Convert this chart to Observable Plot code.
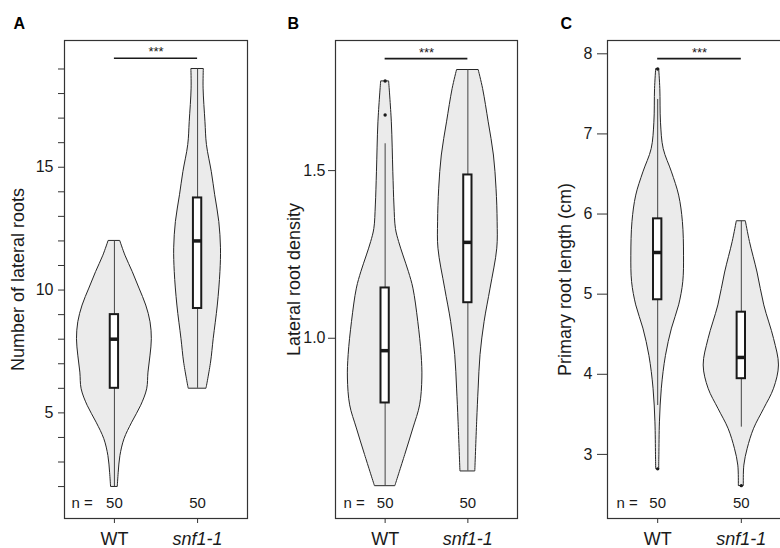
<!DOCTYPE html>
<html>
<head>
<meta charset="utf-8">
<script src="https://cdn.jsdelivr.net/npm/d3@7"></script>
<script src="https://cdn.jsdelivr.net/npm/@observablehq/plot@0.6"></script>
<style>
  html, body { margin: 0; padding: 0; background: #fff; overflow: hidden; }
  #figure { position: relative; width: 780px; height: 548px; overflow: hidden; }
  #figure svg { position: absolute; top: 0; }
</style>
</head>
<body>
<div id="figure"></div>
<script>
// Genotypes on the x axis
const groups = ["WT", "snf1-1"];

// Violin outlines: [value, relative density] from bottom to top, one list per genotype
const lateralWT = [[2.0,0.09],[2.56,0.115],[3.24,0.16],[3.93,0.27],[4.6,0.475],[5.29,0.715],[5.96,0.875],[6.64,0.91],[7.33,0.965],[8.0,1.0],[8.69,0.965],[9.37,0.85],[10.06,0.67],[10.73,0.49],[11.4,0.295],[12.0,0.155]];
const lateralSnf = [[6.0,0.24],[7.05,0.36],[8.0,0.43],[9.37,0.54],[10.73,0.61],[11.7,0.625],[12.77,0.58],[13.86,0.47],[14.8,0.38],[15.9,0.25],[16.85,0.21],[18.2,0.16],[19.0,0.166]];
const densityWT = [[0.56,0.277],[0.652,0.54],[0.731,0.76],[0.80,0.94],[0.88,1.0],[0.95,0.98],[1.049,0.89],[1.148,0.76],[1.197,0.64],[1.247,0.49],[1.287,0.375],[1.326,0.29],[1.396,0.25],[1.495,0.22],[1.644,0.18],[1.766,0.107]];
const densitySnf = [[0.604,0.20],[0.751,0.25],[0.85,0.29],[0.95,0.34],[1.049,0.45],[1.148,0.61],[1.267,0.79],[1.346,0.80],[1.446,0.77],[1.545,0.70],[1.644,0.56],[1.743,0.41],[1.80,0.29]];
const primaryWT = [[2.82,0.04],[2.99,0.045],[3.40,0.06],[3.82,0.11],[4.23,0.22],[4.57,0.38],[4.86,0.57],[5.15,0.68],[5.48,0.70],[5.90,0.67],[6.23,0.57],[6.52,0.38],[6.81,0.16],[7.14,0.088],[7.56,0.07],[7.81,0.04]];
const primarySnf = [[2.61,0.066],[2.86,0.08],[3.07,0.17],[3.32,0.34],[3.57,0.61],[3.82,0.87],[4.11,1.0],[4.44,0.87],[4.86,0.61],[5.27,0.43],[5.65,0.23],[5.91,0.12]];

// Box-plot summaries: [lower whisker, Q1, median, Q3, upper whisker]
const lateralStats = [[2, 6, 8, 9, 12], [6, 9.25, 12, 13.75, 19]];
const densityStats = [[0.56, 0.807, 0.963, 1.15, 1.58], [0.604, 1.106, 1.286, 1.487, 1.80]];
const primaryStats = [[3.61, 4.93, 5.52, 5.94, 7.43], [3.34, 3.945, 4.21, 4.775, 5.91]];

// Outlying observations
const lateralOutliers = [[], []];
const densityOutliers = [[1.666, 1.767], []];
const primaryOutliers = [[2.82, 7.81], [2.61]];

// Sample sizes
const lateralN = [50, 50];
const densityN = [50, 50];
const primaryN = [50, 50];

// Y-axis ticks
const lateralTicks = [2, 3, 4, 5, 6, 7, 8, 9, 10, 11, 12, 13, 14, 15, 16, 17, 18, 19];
const lateralTickLabels = [5, 10, 15];
const densityTicks = [1.0, 1.5];
const primaryTicks = [3, 4, 5, 6, 7, 8];

const HALF = 0.45;   // maximum half-width of a violin, in x units
const BOX = 0.05;    // half-width of the box plot
const FONT = "'Liberation Sans', Arial, Helvetica, sans-serif";
const INK = "#1a1a1a";

function panel(cfg) {
  const rows = cfg.profiles.flatMap((prof, i) => prof.map(([value, density]) => ({pos: i + 1, value, density})));
  const stats = cfg.stats.map(([lo, q1, med, q3, hi], i) => ({pos: i + 1, lo, q1, med, q3, hi}));
  const outs = cfg.outliers.flatMap((vs, i) => vs.map((value) => ({pos: i + 1, value})));
  const counts = cfg.n.map((n, i) => ({pos: i + 1, n}));
  const sig = [{x1: 1, x2: 2, xm: 1.5, y: cfg.sigY}];

  const svg = Plot.plot({
    width: cfg.width,
    height: 548,
    marginTop: 40,
    marginBottom: 30,
    marginLeft: cfg.marginLeft,
    marginRight: cfg.marginRight,
    x: {type: "linear", domain: [0.4, 2.6]},
    y: {domain: cfg.yDomain},
    style: {fontFamily: FONT, color: INK, background: "transparent", overflow: "visible"},
    marks: [
      Plot.areaX(rows, {
        x1: (d) => d.pos - d.density * HALF,
        x2: (d) => d.pos + d.density * HALF,
        y: "value", z: "pos", curve: "catmull-rom",
        fill: "#ebebeb", stroke: "#262626", strokeWidth: 1
      }),
      Plot.ruleX(stats, {x: "pos", y1: "lo", y2: "hi", stroke: "#444", strokeWidth: 1}),
      Plot.rect(stats, {
        x1: (d) => d.pos - BOX, x2: (d) => d.pos + BOX, y1: "q1", y2: "q3",
        fill: "white", stroke: INK, strokeWidth: 2
      }),
      Plot.ruleY(stats, {y: "med", x1: (d) => d.pos - BOX, x2: (d) => d.pos + BOX, stroke: INK, strokeWidth: 3.5}),
      Plot.dot(outs, {x: "pos", y: "value", r: 1.7, fill: INK, stroke: null}),
      Plot.ruleY(sig, {y: "y", x1: "x1", x2: "x2", stroke: INK, strokeWidth: 1.6}),
      Plot.text(sig, {x: "xm", y: "y", text: () => "***", dy: -2, lineAnchor: "bottom", fontSize: 13, fill: INK}),
      Plot.text(counts, {x: "pos", text: (d) => String(d.n), frameAnchor: "bottom", dy: -11, lineAnchor: "bottom", fontSize: 15, fill: INK}),
      Plot.text(["n ="], {frameAnchor: "bottom-left", dx: cfg.nDx, dy: -11, textAnchor: "start", lineAnchor: "bottom", fontSize: 15, fill: INK}),
      Plot.text([cfg.title], {frameAnchor: "left", rotate: -90, dx: cfg.titleDx, textAnchor: "middle", lineAnchor: "middle", fontSize: 18, fill: INK}),
      Plot.text([cfg.letter], {frameAnchor: "top-left", dx: cfg.letterDx, dy: -12, textAnchor: "start", lineAnchor: "bottom", fontSize: 16, fontWeight: "bold", fill: "#000"}),
      Plot.frame({stroke: "#333", strokeWidth: 1.2}),
      Plot.axisY({ticks: cfg.yTicks, tickFormat: cfg.yFormat, tickSize: cfg.tickSize, tickPadding: cfg.tickPadding, fontSize: 16, label: null, stroke: "#333"}),
      Plot.axisX({ticks: [1], tickFormat: () => groups[0], tickSize: 5, tickPadding: 9, fontSize: 18, label: null, stroke: "#333"}),
      Plot.axisX({ticks: [2], tickFormat: () => groups[1], tickSize: 5, tickPadding: 9, fontSize: 18, fontStyle: "italic", label: null, stroke: "#333"})
    ]
  });
  svg.style.left = cfg.left + "px";
  document.getElementById("figure").appendChild(svg);
}

panel({
  left: 0, width: 260, marginLeft: 64, marginRight: 13,
  yDomain: [0.70, 20.16], yTicks: lateralTicks,
  yFormat: (d) => (lateralTickLabels.includes(d) ? String(d) : ""),
  tickSize: 6, tickPadding: 5,
  profiles: [lateralWT, lateralSnf], stats: lateralStats, outliers: lateralOutliers, n: lateralN,
  sigY: 19.44, title: "Number of lateral roots", titleDx: -46.5, letter: "A", letterDx: -51, nDx: 7
});

panel({
  left: 260, width: 260, marginLeft: 75, marginRight: 3,
  yDomain: [0.4625, 1.888], yTicks: densityTicks,
  yFormat: (d) => d.toFixed(1),
  tickSize: 7, tickPadding: 3,
  profiles: [densityWT, densitySnf], stats: densityStats, outliers: densityOutliers, n: densityN,
  sigY: 1.834, title: "Lateral root density", titleDx: -41.5, letter: "B", letterDx: -48, nDx: 8
});

panel({
  left: 520, width: 280, marginLeft: 87, marginRight: 9,
  yDomain: [2.20, 8.166], yTicks: primaryTicks,
  yFormat: (d) => String(d),
  tickSize: 10, tickPadding: 5,
  profiles: [primaryWT, primarySnf], stats: primaryStats, outliers: primaryOutliers, n: primaryN,
  sigY: 7.94, title: "Primary root length (cm)", titleDx: -42, letter: "C", letterDx: -47, nDx: 9
});
</script>
</body>
</html>
